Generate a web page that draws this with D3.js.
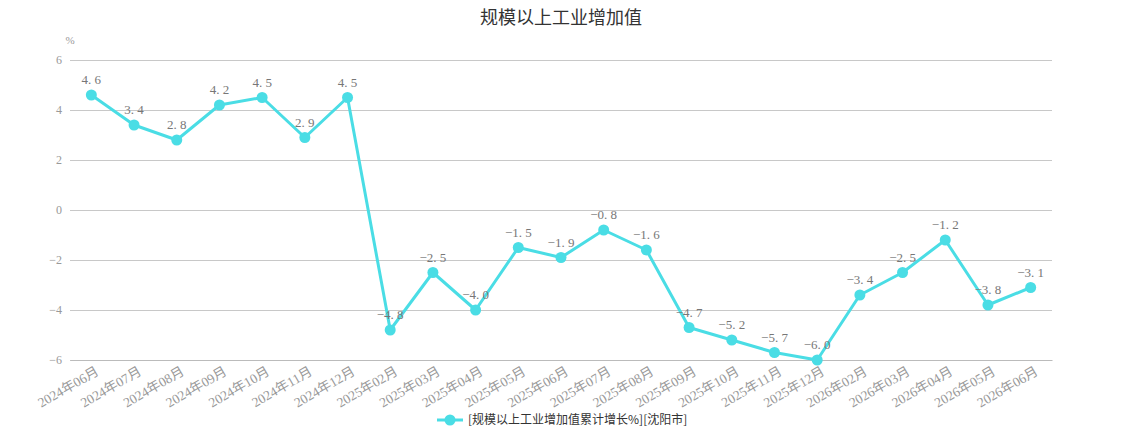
<!DOCTYPE html>
<html>
<head>
<meta charset="utf-8">
<script src="https://cdn.jsdelivr.net/npm/d3@7"></script>
<style>
  body { margin: 0; background: #fff; }
  svg { display: block; }
</style>
</head>
<body>
<script>
// categories and values
const months = [
  '2024年06月', '2024年07月', '2024年08月', '2024年09月', '2024年10月', '2024年11月', '2024年12月',
  '2025年02月', '2025年03月', '2025年04月', '2025年05月', '2025年06月', '2025年07月', '2025年08月',
  '2025年09月', '2025年10月', '2025年11月', '2025年12月',
  '2026年02月', '2026年03月', '2026年04月', '2026年05月', '2026年06月'
];
const growth = [4.6, 3.4, 2.8, 4.2, 4.5, 2.9, 4.5, -4.8, -2.5, -4.0, -1.5, -1.9, -0.8, -1.6,
  -4.7, -5.2, -5.7, -6.0, -3.4, -2.5, -1.2, -3.8, -3.1];
const yTicks = [-6, -4, -2, 0, 2, 4, 6];
const seriesName = '[规模以上工业增加值累计增长%][沈阳市]';

const width = 1122, height = 440;
const margin = { top: 60, right: 70, bottom: 80, left: 70 };
const color = '#4adde5';
const serif = '"Liberation Serif", "DejaVu Serif", "Noto Sans CJK SC", serif';

const svg = d3.select('body').append('svg')
  .attr('width', width)
  .attr('height', height);

const x = d3.scaleBand()
  .domain(months)
  .range([margin.left, width - margin.right]);

const y = d3.scaleLinear()
  .domain([-6, 6])
  .range([height - margin.bottom, margin.top]);

// title
svg.append('text')
  .attr('x', width / 2)
  .attr('y', 24)
  .attr('text-anchor', 'middle')
  .style('font-family', '"Noto Sans CJK SC", sans-serif')
  .style('font-size', '18px')
  .style('fill', '#333')
  .text('规模以上工业增加值');

// unit
svg.append('text')
  .attr('x', 70)
  .attr('y', 44)
  .attr('text-anchor', 'middle')
  .style('font-family', serif)
  .style('font-size', '11px')
  .style('fill', '#999')
  .text('%');

// grid lines + y labels
const yAxis = svg.append('g')
  .attr('transform', `translate(${margin.left},0)`)
  .call(d3.axisLeft(y).tickValues(yTicks).tickSize(-(width - margin.left - margin.right)).tickPadding(8));
yAxis.select('.domain').remove();
yAxis.selectAll('.tick line').attr('stroke', '#c8c8c8').attr('stroke-width', 1);
yAxis.selectAll('.tick text')
  .style('font-family', serif)
  .style('font-size', '12px')
  .style('fill', '#999')
  .text(d => d < 0 ? '−' + Math.abs(d) : d);

// x labels, rotated
const xAxis = svg.append('g')
  .attr('transform', `translate(0,${height - margin.bottom})`)
  .call(d3.axisBottom(x).tickSize(0).tickPadding(0));
xAxis.select('.domain').attr('stroke', '#bbb');
xAxis.selectAll('.tick text')
  .attr('text-anchor', 'end')
  .attr('transform', 'translate(6,10) rotate(-30)')
  .attr('dy', '0.35em')
  .style('font-family', serif)
  .style('font-size', '13.5px')
  .style('fill', '#999');

// line
const cx = (d, i) => x(months[i]) + x.bandwidth() / 2;
const line = d3.line()
  .x(cx)
  .y(d => y(d));

svg.append('path')
  .datum(growth)
  .attr('fill', 'none')
  .attr('stroke', color)
  .attr('stroke-width', 3)
  .attr('stroke-linejoin', 'round')
  .attr('d', line);

svg.selectAll('.dot')
  .data(growth)
  .enter().append('circle')
  .attr('class', 'dot')
  .attr('cx', cx)
  .attr('cy', d => y(d))
  .attr('r', 5.5)
  .attr('fill', color);

// value labels
svg.selectAll('.val')
  .data(growth)
  .enter().append('text')
  .attr('class', 'val')
  .attr('x', cx)
  .attr('y', d => y(d) - 11)
  .attr('text-anchor', 'middle')
  .style('font-family', serif)
  .style('font-size', '13px')
  .style('fill', '#777')
  .text(d => (d < 0 ? '−' : '') + Math.abs(d).toFixed(1).replace('.', '. '));

// legend
const legend = svg.append('g')
  .attr('transform', `translate(${width / 2 - 124},420)`);
legend.append('line')
  .attr('x1', 0).attr('x2', 26)
  .attr('stroke', color).attr('stroke-width', 3);
legend.append('circle')
  .attr('cx', 13).attr('r', 5.5).attr('fill', color);
legend.append('text')
  .attr('x', 31)
  .attr('dy', '0.35em')
  .style('font-family', '"Noto Sans CJK SC", sans-serif')
  .style('font-size', '12px')
  .style('fill', '#333')
  .text(seriesName);
</script>
</body>
</html>
